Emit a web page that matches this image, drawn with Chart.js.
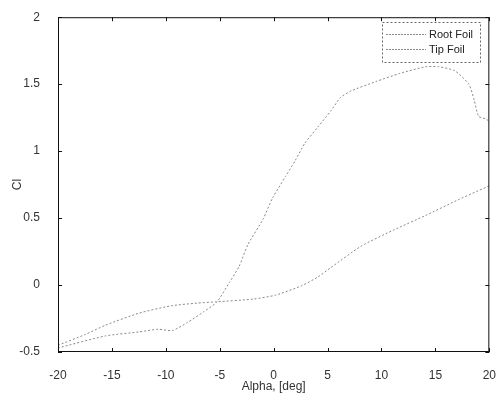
<!DOCTYPE html>
<html>
<head>
<meta charset="utf-8">
<script src="https://cdn.jsdelivr.net/npm/chart.js@4/dist/chart.umd.min.js"></script>
<style>
  html, body { margin: 0; padding: 0; background: #fff; }
  #wrap { width: 504px; height: 403px; position: relative; }
</style>
</head>
<body>
<div id="wrap"><canvas id="clChart"></canvas></div>
<script>
// values
const rootAlpha = [-20, -15.6, -12.5, -10.7, -9.4, -8, -6.5, -5.3, -4.1, -3.2, -2.4, -1, -0.1, 1.1, 2, 2.9, 4.1, 5.3, 6.2, 7.2, 9.5, 11.7, 14.1, 15.3, 16.8, 18.1, 18.6, 19, 19.7, 20];
const rootCl = [-0.47, -0.38, -0.35, -0.33, -0.34, -0.28, -0.2, -0.13, 0.02, 0.14, 0.3, 0.49, 0.65, 0.81, 0.93, 1.06, 1.18, 1.3, 1.4, 1.45, 1.52, 1.58, 1.63, 1.63, 1.6, 1.5, 1.38, 1.26, 1.24, 1.22];

const tipAlpha = [-20, -17.5, -15.6, -12.5, -9.5, -7.1, -5.3, -1.9, 0.2, 2.6, 4.1, 5.3, 8.1, 11.1, 14.1, 17.2, 19.7, 20];
const tipCl = [-0.45, -0.37, -0.3, -0.21, -0.155, -0.135, -0.125, -0.105, -0.075, -0.005, 0.06, 0.13, 0.29, 0.41, 0.52, 0.64, 0.73, 0.74];

const seriesNames = ['Root Foil', 'Tip Foil'];
const xTicks = [-20, -15, -10, -5, 0, 5, 10, 15, 20];
const yTicks = [-0.5, 0, 0.5, 1, 1.5, 2];

const lineColor = '#8a8a8a';
const fontFamily = 'Liberation Sans, Arial, sans-serif';

function pairs(xs, ys) {
    return xs.map((x, i) => ({ x: x, y: ys[i] }));
}

// inward tick marks on all four sides, plus the legend box
const framePlugin = {
    id: 'frame',
    afterDraw(chart) {
        const { ctx, chartArea: a, scales } = chart;
        ctx.save();
        ctx.strokeStyle = '#111';
        ctx.lineWidth = 1;
        ctx.strokeRect(a.left + 0.5, a.top + 0.5, a.right - a.left - 1, a.bottom - a.top - 1);
        ctx.beginPath();
        xTicks.forEach(v => {
            const px = Math.round(scales.x.getPixelForValue(v)) + 0.5;
            ctx.moveTo(px, a.bottom); ctx.lineTo(px, a.bottom - 4);
            ctx.moveTo(px, a.top); ctx.lineTo(px, a.top + 4);
        });
        yTicks.forEach(v => {
            const py = Math.round(scales.y.getPixelForValue(v)) + 0.5;
            ctx.moveTo(a.left, py); ctx.lineTo(a.left + 4, py);
            ctx.moveTo(a.right, py); ctx.lineTo(a.right - 4, py);
        });
        ctx.stroke();

        // legend
        const bx = 382, by = 22, bw = 98, bh = 40;
        ctx.fillStyle = '#fff';
        ctx.fillRect(bx, by, bw, bh);
        ctx.strokeStyle = '#666';
        ctx.setLineDash([2, 2]);
        ctx.strokeRect(bx + 0.5, by + 0.5, bw, bh);
        ctx.font = '11px ' + fontFamily;
        ctx.textBaseline = 'middle';
        seriesNames.forEach((name, i) => {
            const yy = by + 12 + i * 15 + 0.5;
            ctx.strokeStyle = lineColor;
            ctx.setLineDash([2, 1]);
            ctx.beginPath();
            ctx.moveTo(bx + 4, yy); ctx.lineTo(bx + 44, yy);
            ctx.stroke();
            ctx.fillStyle = '#222';
            ctx.fillText(name, bx + 47, yy);
        });
        ctx.restore();
    }
};

const ctx = document.getElementById('clChart');
const myChart = new Chart(ctx, {
    type: 'line',
    data: {
        datasets: [
            {
                label: seriesNames[0],
                data: pairs(rootAlpha, rootCl),
                borderColor: lineColor,
                borderWidth: 1,
                borderDash: [2, 2],
                pointRadius: 0,
                tension: 0.2
            },
            {
                label: seriesNames[1],
                data: pairs(tipAlpha, tipCl),
                borderColor: lineColor,
                borderWidth: 1,
                borderDash: [2, 2],
                pointRadius: 0,
                tension: 0.2
            }
        ]
    },
    options: {
        responsive: true,
        maintainAspectRatio: false,
        animation: false,
        layout: { padding: { top: 14, right: 7, left: 0, bottom: 0 } },
        plugins: {
            legend: { display: false },
            tooltip: { enabled: false }
        },
        scales: {
            x: {
                type: 'linear',
                min: -20,
                max: 20,
                afterBuildTicks: s => { s.ticks = xTicks.map(v => ({ value: v })); },
                afterFit: s => { s.height = 51; },
                grid: { display: false },
                border: { display: false },
                ticks: {
                    padding: 8,
                    color: '#333',
                    font: { family: fontFamily, size: 12 },
                    maxRotation: 0,
                    callback: v => String(v)
                },
                title: {
                    display: true,
                    text: 'Alpha, [deg]',
                    color: '#333',
                    font: { family: fontFamily, size: 12 },
                    padding: { top: 0, bottom: 9 }
                }
            },
            y: {
                min: -0.5,
                max: 2,
                afterBuildTicks: s => { s.ticks = yTicks.map(v => ({ value: v })); },
                afterFit: s => { s.width = 58; },
                grid: { display: false },
                border: { display: false },
                ticks: {
                    padding: 10,
                    color: '#333',
                    font: { family: fontFamily, size: 12 },
                    callback: v => String(v)
                },
                title: {
                    display: true,
                    text: 'Cl',
                    color: '#333',
                    font: { family: fontFamily, size: 12 },
                    padding: { top: 10, bottom: 0 }
                }
            }
        }
    },
    plugins: [framePlugin]
});
</script>
</body>
</html>
